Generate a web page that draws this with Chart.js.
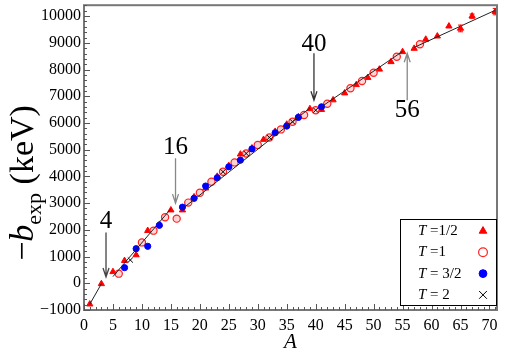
<!DOCTYPE html>
<html><head><meta charset="utf-8">
<script src="https://cdn.jsdelivr.net/npm/chart.js@4"></script>
<style>html,body{margin:0;padding:0;background:#fff}canvas{display:block}</style>
</head><body>
<canvas id="c" width="507" height="355"></canvas>
<script>
// T = 1/2 (mirror nuclei)
const aT12 = [1,3,5,7,9,11,13,15,17,19,21,23,25,27,29,31,33,35,37,39,41,43,45,47,49,51,53,55,57,59,61,63,65,67,71];
const bT12 = [-782,-20,430,846,1060,1970,2200,2740,2740,3230,3560,4000,4400,4830,5060,5380,5680,5950,6230,6530,6500,6860,7120,7430,7700,8010,8290,8665,8790,9130,9250,9625,9540,10000,10170];
const eT12 = [0,0,0,0,0,0,0,0,0,0,0,0,0,0,0,0,0,0,0,0,0,0,0,0,0,0,0,0,0,0,0,0,125,80,120];
// T = 1
const aT1 = [6,10,12,14,16,18,20,22,24,26,28,30,32,34,36,38,40,42,46,48,50,54,58];
const bT1 = [360,1530,1970,2470,2420,3020,3390,3800,4175,4525,4860,5180,5460,5760,6045,6300,6480,6720,7300,7570,7880,8480,8950];
// T = 3/2
const aT32 = [7,9,11,13,17,19,21,23,25,27,29,33,35,37,41];
const bT32 = [585,1295,1385,2170,2850,3180,3640,3950,4360,4610,5030,5635,5885,6210,6607];
// T = 2
const aT2 = [8,24,28,32,36,40];
const bT2 = [870,4175,4860,5460,6045,6480];
// fitted line segments (start A, end A, start value, end value)
const segA0 = [1,5,17,41,57];
const segA1 = [3,15,39,55,71];
const segB0 = [-782,250,2790,6610,8830];
const segB1 = [-20,2790,6560,8680,10220];
// arrow annotations: A, label value, arrow tail, arrow tip
const arrA = [3.8,15.8,39.7,55.8];
const arrText = ['4','16','40','56'];
const arrLabelV = [2320,5090,8950,6480];
const arrTailV = [1900,4680,8610,6850];
const arrTipV = [235,3000,6850,8610];
const arrColor = ['#444','#888','#333','#888'];
// tick labels
const xTicks = [0,5,10,15,20,25,30,35,40,45,50,55,60,65,70];
const yTicks = [-1000,0,1000,2000,3000,4000,5000,6000,7000,8000,9000,10000];
const legendLabels = ['1/2','1','3/2','2'];

const serif = '"Liberation Serif","DejaVu Serif",serif';
const pts = (a,b)=>a.map((x,i)=>({x:x,y:b[i]}));

const lineSets = segA0.map((a0,i)=>({
  type:'line', data:[{x:a0,y:segB0[i]},{x:segA1[i],y:segB1[i]}],
  borderColor:'#222', borderWidth:1, pointRadius:0, showLine:true, fill:false, order:0
}));

const styles = [
  {pointStyle:'triangle', radius:3.6, bg:'#ff0000', bc:'#ff0000', bw:1},
  {pointStyle:'circle', radius:3.6, bg:'rgba(255,80,80,0.25)', bc:'#ff2020', bw:1.2},
  {pointStyle:'circle', radius:3.1, bg:'#0000ff', bc:'#0000ff', bw:1},
  {pointStyle:'crossRot', radius:3.6, bg:'#000', bc:'#000', bw:1}
];
const sets = [pts(aT12,bT12), pts(aT1,bT1), pts(aT32,bT32), pts(aT2,bT2)];
const pointSets = sets.map((d,i)=>({
  type:'scatter', data:d, pointStyle:styles[i].pointStyle, pointRadius:styles[i].radius,
  backgroundColor:styles[i].bg, borderColor:styles[i].bc, borderWidth:styles[i].bw, order:4-i
}));

const deco = {
  id:'deco',
  afterDatasetsDraw(chart){
    const ctx = chart.ctx, xs = chart.scales.x, ys = chart.scales.y;
    ctx.save();
    // error bars
    ctx.strokeStyle = '#ff0000'; ctx.lineWidth = 1;
    aT12.forEach((a,i)=>{
      if(!eT12[i]) return;
      const x = xs.getPixelForValue(a), y0 = ys.getPixelForValue(bT12[i]-eT12[i]), y1 = ys.getPixelForValue(bT12[i]+eT12[i]);
      ctx.beginPath(); ctx.moveTo(x,y0); ctx.lineTo(x,y1);
      ctx.moveTo(x-2.5,y0); ctx.lineTo(x+2.5,y0); ctx.moveTo(x-2.5,y1); ctx.lineTo(x+2.5,y1); ctx.stroke();
    });
    // arrows
    arrA.forEach((a,i)=>{
      const x = xs.getPixelForValue(a), yt = ys.getPixelForValue(arrTailV[i]), yp = ys.getPixelForValue(arrTipV[i]);
      const dir = yp > yt ? 1 : -1;
      ctx.strokeStyle = arrColor[i]; ctx.lineWidth = 1.3;
      ctx.beginPath(); ctx.moveTo(x,yt); ctx.lineTo(x,yp);
      ctx.moveTo(x-3,yp-dir*9); ctx.lineTo(x,yp); ctx.lineTo(x+3,yp-dir*9); ctx.stroke();
      ctx.fillStyle = '#000'; ctx.font = '25px '+serif; ctx.textAlign='center'; ctx.textBaseline='middle';
      ctx.fillText(arrText[i], x, ys.getPixelForValue(arrLabelV[i]));
    });
    ctx.restore();
  },
  afterDraw(chart){
    const ctx = chart.ctx, xs = chart.scales.x, ys = chart.scales.y, ca = chart.chartArea;
    ctx.save();
    // frame
    ctx.strokeStyle = '#777'; ctx.lineWidth = 2;
    ctx.strokeRect(ca.left, ca.top, ca.right-ca.left, ca.bottom-ca.top);
    // ticks (inward)
    ctx.strokeStyle = '#555'; ctx.lineWidth = 1;
    ctx.beginPath();
    for(let v=0; v<=71; v+=1){
      const x = Math.round(xs.getPixelForValue(v))+0.5, L = (v%5===0)?6:3;
      ctx.moveTo(x, ca.bottom); ctx.lineTo(x, ca.bottom-L);
    }
    for(let v=-1000; v<=10400; v+=200){
      const y = Math.round(ys.getPixelForValue(v))+0.5, L = (v%1000===0)?6:3;
      ctx.moveTo(ca.left, y); ctx.lineTo(ca.left+L, y);
    }
    ctx.stroke();
    // y title: −b_exp (keV)
    ctx.translate(24, 183);
    ctx.rotate(-Math.PI/2);
    ctx.fillStyle = '#000'; ctx.textBaseline = 'alphabetic'; ctx.textAlign = 'left';
    const big = '34px '+serif, it = 'italic 34px '+serif, sm = '22px '+serif;
    const parts = [['\u2212',big,0],['b',it,0],['exp',sm,8],[' (keV)',big,0]];
    let w = 0; parts.forEach(p=>{ctx.font=p[1]; w+=ctx.measureText(p[0]).width;});
    let x = -w/2;
    parts.forEach(p=>{ctx.font=p[1]; ctx.fillText(p[0], x, 9+p[2]); x+=ctx.measureText(p[0]).width;});
    ctx.restore();
    // legend
    ctx.save();
    const bx0 = ca.right-97, bx1 = ca.right, by0 = ca.bottom-91, by1 = ca.bottom-5;
    ctx.fillStyle = '#fff'; ctx.fillRect(bx0,by0,bx1-bx0,by1-by0);
    ctx.strokeStyle = '#000'; ctx.lineWidth = 1; ctx.strokeRect(bx0+0.5,by0+0.5,bx1-bx0-1,by1-by0);
    legendLabels.forEach((lab,i)=>{
      const y = by0 + 12 + i*21.3;
      ctx.fillStyle = '#000'; ctx.textBaseline='middle'; ctx.textAlign='left';
      ctx.font = 'italic 15px '+serif; ctx.fillText('T', bx0+18, y);
      const tw = ctx.measureText('T').width;
      ctx.font = '15px '+serif; ctx.fillText(i>=2 ? ' = '+lab : ' ='+lab, bx0+18+tw, y);
      const s = styles[i];
      const opt = {pointStyle:s.pointStyle, radius:(i===3?5.5:s.radius+0.8), borderWidth:s.bw};
      ctx.fillStyle = i===1 ? '#fff' : s.bg; ctx.strokeStyle = s.bc; ctx.lineWidth = s.bw;
      Chart.helpers.drawPoint(ctx, opt, bx0+83, y);
    });
    ctx.restore();
  }
};

new Chart(document.getElementById('c'), {
  type:'scatter',
  data:{datasets:[...pointSets, ...lineSets]},
  options:{
    responsive:false, animation:false, devicePixelRatio:1,
    layout:{padding:{left:0,right:10,top:5,bottom:0}},
    plugins:{legend:{display:false}, tooltip:{enabled:false}},
    scales:{
      x:{type:'linear', min:0, max:71.3,
         afterBuildTicks:(s)=>{s.ticks = xTicks.map(v=>({value:v}));},
         afterFit:(s)=>{s.height=45; s.paddingLeft=0; s.paddingRight=0;},
         grid:{display:false, drawTicks:false}, border:{display:false},
         ticks:{color:'#000', font:{family:serif,size:16}, padding:6, maxRotation:0, autoSkip:false,
                callback:(v)=>String(v)},
         title:{display:true, text:'A', color:'#000', font:{family:serif,size:21,style:'italic'}, padding:{top:0,bottom:0}}
      },
      y:{type:'linear', min:-1000, max:10410,
         afterBuildTicks:(s)=>{s.ticks = yTicks.map(v=>({value:v}));},
         afterFit:(s)=>{s.width=84; s.paddingTop=0; s.paddingBottom=0;},
         grid:{display:false, drawTicks:false}, border:{display:false},
         ticks:{color:'#000', font:{family:serif,size:16}, padding:3, autoSkip:false,
                callback:(v)=> v<0 ? '\u2212'+Math.abs(v) : String(v)}
      }
    }
  },
  plugins:[deco]
});
</script>
</body></html>
